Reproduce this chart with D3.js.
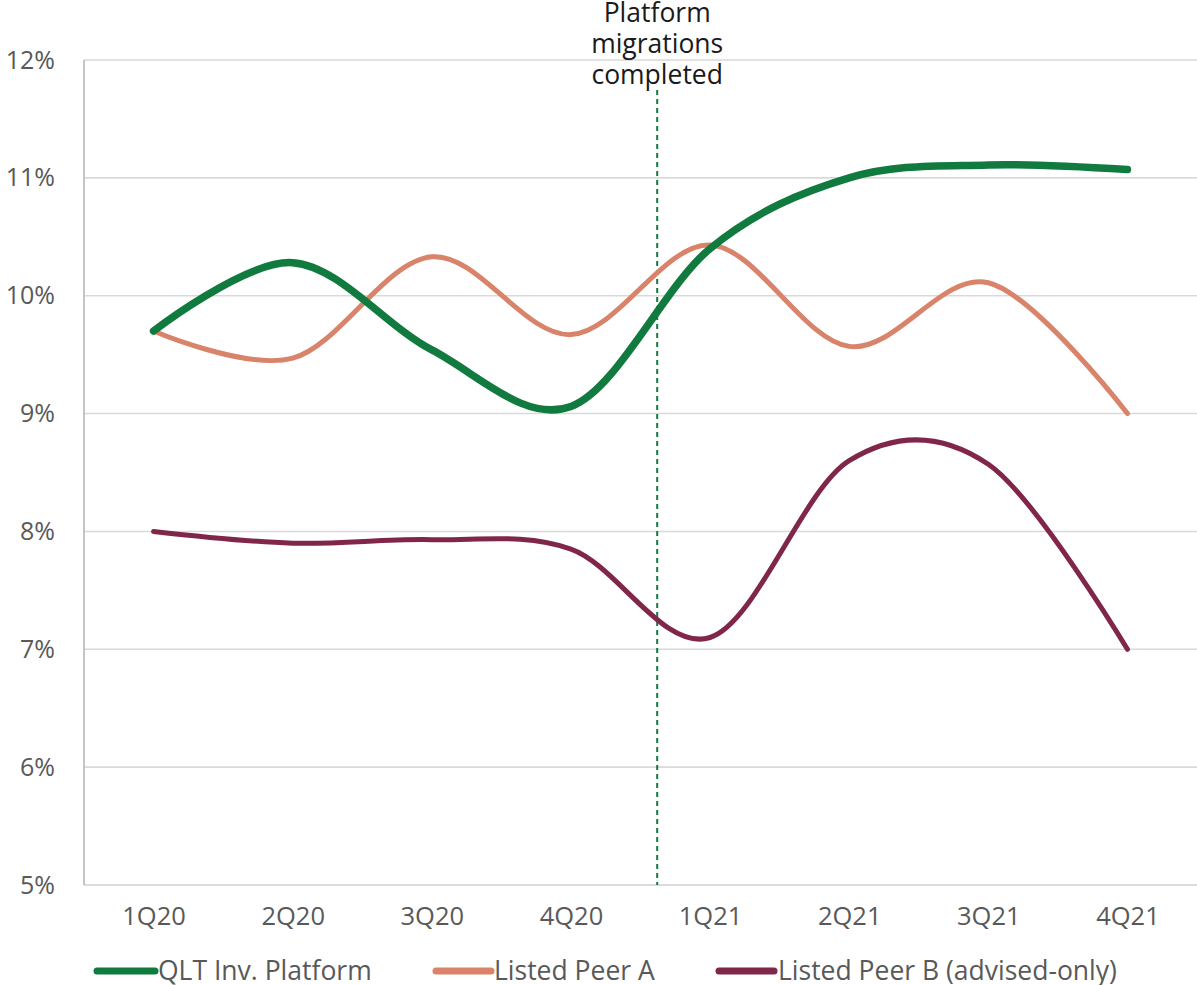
<!DOCTYPE html>
<html>
<head>
<meta charset="utf-8">
<script src="https://cdn.jsdelivr.net/npm/d3@7"></script>
<style>
  html, body { margin: 0; padding: 0; background: #fff; }
  svg { display: block; font-family: "Open Sans", "Noto Sans", sans-serif; }
</style>
</head>
<body>
<svg id="chart" width="1197" height="985"></svg>
<script>
// Quarterly categories
const quarters = ["1Q20", "2Q20", "3Q20", "4Q20", "1Q21", "2Q21", "3Q21", "4Q21"];

// Series values (%)
const qltPlatform = [9.70, 10.28, 9.54, 9.06, 10.40, 11.00, 11.11, 11.07];
const listedPeerA = [9.70, 9.47, 10.33, 9.67, 10.43, 9.57, 10.11, 9.00];
const listedPeerB = [8.00, 7.90, 7.93, 7.85, 7.10, 8.60, 8.57, 7.00];

// Y-axis ticks (%)
const yTicks = [5, 6, 7, 8, 9, 10, 11, 12];

// Legend names
const seriesNames = ["QLT Inv. Platform", "Listed Peer A", "Listed Peer B (advised-only)"];

// Event marker: between 4Q20 and 1Q21
const eventFrom = "4Q20", eventTo = "1Q21", eventFraction = 0.62;
const eventLabel = ["Platform", "migrations", "completed"];

const series = [
  { name: seriesNames[0], values: qltPlatform, color: "#117a3e", width: 7.5 },
  { name: seriesNames[1], values: listedPeerA, color: "#d8836a", width: 5 },
  { name: seriesNames[2], values: listedPeerB, color: "#80264a", width: 5 }
];

const svg = d3.select("#chart");
const plotLeft = 84, plotRight = 1197, plotTop = 60, plotBottom = 885;

const x = d3.scalePoint().domain(quarters).range([plotLeft, plotRight]).padding(0.5);
const y = d3.scaleLinear().domain([5, 12]).range([plotBottom, plotTop]);

// Horizontal gridlines
svg.append("g")
  .selectAll("line")
  .data(yTicks)
  .join("line")
  .attr("x1", plotLeft).attr("x2", plotRight)
  .attr("y1", d => y(d)).attr("y2", d => y(d))
  .attr("stroke", d => d === 5 ? "#d0d0d0" : "#d9d9d9")
  .attr("stroke-width", 1.6);

// Y axis line
svg.append("line")
  .attr("x1", plotLeft).attr("x2", plotLeft)
  .attr("y1", y(12)).attr("y2", y(5))
  .attr("stroke", "#bfbfbf").attr("stroke-width", 1.8);

// Y tick labels
const yAxis = d3.axisLeft(y).tickValues(yTicks).tickFormat(d => d + "%").tickSize(0).tickPadding(29);
const yg = svg.append("g").attr("transform", `translate(${plotLeft},0)`).call(yAxis);
yg.select(".domain").remove();
yg.selectAll("text")
  .attr("fill", "#595959")
  .style("font-size", "25px")
  .style("font-family", "'Open Sans', sans-serif");

// X tick labels
const xAxis = d3.axisBottom(x).tickSize(0).tickPadding(22);
const xg = svg.append("g").attr("transform", `translate(0,${plotBottom})`).call(xAxis);
xg.select(".domain").remove();
xg.selectAll("text")
  .attr("fill", "#595959")
  .style("font-size", "25.5px")
  .style("font-family", "'Open Sans', sans-serif");

// Event marker (dashed vertical line + label)
const eventX = x(eventFrom) + (x(eventTo) - x(eventFrom)) * eventFraction;
svg.append("line")
  .attr("x1", eventX).attr("x2", eventX)
  .attr("y1", 90).attr("y2", plotBottom)
  .attr("stroke", "#117a3e")
  .attr("stroke-width", 2)
  .attr("stroke-dasharray", "5,4");

svg.append("g")
  .selectAll("text")
  .data(eventLabel)
  .join("text")
  .attr("x", eventX)
  .attr("y", (d, i) => 22 + i * 31)
  .attr("text-anchor", "middle")
  .attr("fill", "#1a1a1a")
  .style("font-size", "26.5px")
  .text(d => d);

// Smoothed series lines
const line = d3.line()
  .x((d, i) => x(quarters[i]))
  .y(d => y(d))
  .curve(d3.curveCardinal.tension(0));

svg.append("g")
  .selectAll("path")
  .data(series.slice().reverse())
  .join("path")
  .attr("d", d => line(d.values))
  .attr("fill", "none")
  .attr("stroke", d => d.color)
  .attr("stroke-width", d => d.width)
  .attr("stroke-linecap", "round")
  .attr("stroke-linejoin", "round");

// Legend
const legendY = 971;
const legendItems = [
  { x1: 97, x2: 155, tx: 158 },
  { x1: 436, x2: 491, tx: 494 },
  { x1: 719, x2: 774, tx: 778 }
];
const lg = svg.append("g");
series.forEach((s, i) => {
  const it = legendItems[i];
  lg.append("line")
    .attr("x1", it.x1).attr("x2", it.x2)
    .attr("y1", legendY).attr("y2", legendY)
    .attr("stroke", s.color)
    .attr("stroke-width", 7)
    .attr("stroke-linecap", "round");
  lg.append("text")
    .attr("x", it.tx)
    .attr("y", legendY + 9)
    .attr("fill", "#595959")
    .style("font-size", "26.5px")
    .text(s.name);
});
</script>
</body>
</html>
